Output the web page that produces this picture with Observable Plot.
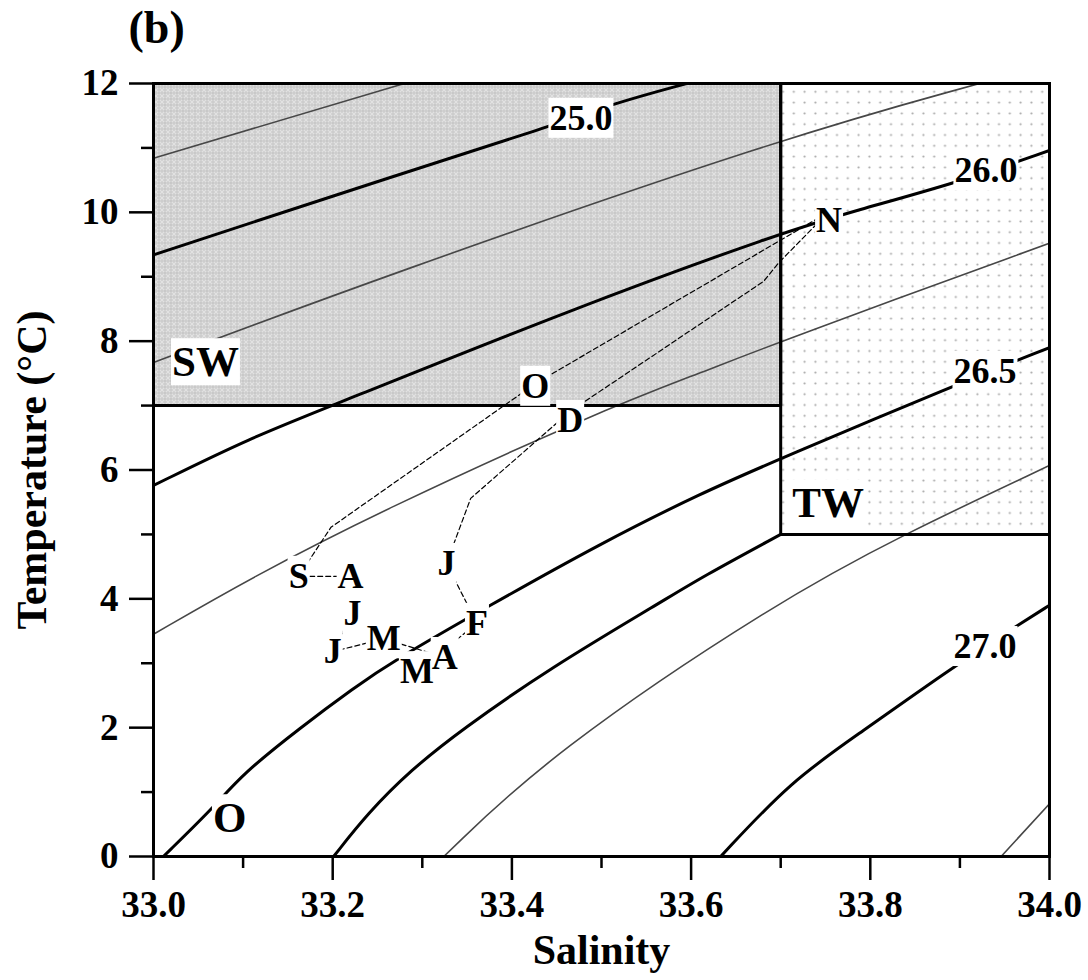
<!DOCTYPE html>
<html><head><meta charset="utf-8">
<script src="https://cdn.jsdelivr.net/npm/d3@7"></script>
<script src="https://cdn.jsdelivr.net/npm/@observablehq/plot@0.6"></script>
<style>body{margin:0;background:#fff}</style>
</head><body>
<div id="chart"></div>
<script>
// ---- axis ticks ----
const xTicks = [33.0, 33.2, 33.4, 33.6, 33.8, 34.0];
const xMinorTicks = [33.1, 33.3, 33.5, 33.7, 33.9];
const yTicks = [0, 2, 4, 6, 8, 10, 12];
const yMinorTicks = [1, 3, 5, 7, 9, 11];

// ---- isopycnals (salinity, temperature) ----
const isoAS = [33.000, 33.280];                 const isoAT = [10.84, 12.00];
const isoBS = [33.000, 33.276, 33.440, 33.513, 33.595]; const isoBT = [9.34, 10.60, 11.32, 11.69, 12.00];
const isoCS = [33.000, 33.253, 33.700, 33.922]; const isoCT = [7.67, 8.99, 11.15, 12.00];
const isoDS = [33.000, 33.108, 33.205, 33.469, 33.702, 33.784, 33.897, 34.000];
const isoDT = [5.76, 6.50, 7.03, 8.51, 9.69, 10.03, 10.46, 10.96];
const isoES = [33.000, 33.108, 33.253, 33.499, 33.611, 33.702, 34.000];
const isoET = [3.45, 4.32, 5.36, 6.92, 7.51, 8.01, 9.52];
const isoFS = [33.011, 33.067, 33.100, 33.164, 33.223, 33.268, 33.373, 33.499, 33.611, 33.702, 33.893, 34.000];
const isoFT = [0.00, 0.76, 1.29, 2.00, 2.61, 3.04, 3.88, 4.86, 5.64, 6.19, 7.31, 7.90];
const isoHS = [33.324, 33.443, 33.698, 33.834, 34.000]; const isoHT = [0.00, 1.60, 3.97, 4.98, 6.07];
const isoIS = [33.633, 33.712, 33.788, 33.892, 33.967, 34.000]; const isoIT = [0.00, 1.18, 1.91, 2.94, 3.61, 3.90];
const isoJS = [33.946, 34.000];                 const isoJT = [0.00, 0.82];
// water-mass boundary curve (O / TW)
const bndS = [33.201, 33.239, 33.287, 33.343, 33.443, 33.569, 33.611, 33.700];
const bndT = [0.00, 0.67, 1.34, 1.96, 2.93, 3.97, 4.33, 5.00];

// ---- water mass boxes ----
const swBoxS = [33.0, 33.7]; const swBoxT = [7, 12];
const twBoxS = [33.7, 34.0]; const twBoxT = [5, 12];

// ---- labels ----
const isoLabelText = ["25.0", "26.0", "26.5", "27.0"];
const isoLabelS = [33.477, 33.929, 33.928, 33.928];
const isoLabelT = [11.46, 10.65, 7.53, 3.26];
const massText = ["SW", "TW", "O"];
const massS = [33.058, 33.753, 33.085];
const massT = [7.67, 5.48, 0.59];
const monthText = ["J", "F", "M", "A", "M", "J", "J", "A", "S", "O", "N", "D"];
const monthS = [33.327, 33.361, 33.294, 33.325, 33.257, 33.200, 33.222, 33.220, 33.162, 33.426, 33.754, 33.465];
const monthT = [4.55, 3.62, 2.87, 3.09, 3.38, 3.18, 3.77, 4.35, 4.35, 7.30, 9.87, 6.77];

// ---- monthly T-S trajectory (dashed) ----
const pathS = [33.327, 33.361, 33.294, 33.325, 33.257, 33.200, 33.222, 33.220, 33.162, 33.198, 33.426, 33.753, 33.698, 33.681, 33.465, 33.354, 33.327];
const pathT = [4.55, 3.62, 2.87, 3.09, 3.38, 3.18, 3.77, 4.35, 4.35, 5.11, 7.34, 10.00, 9.22, 8.93, 6.91, 5.56, 4.55];

// ---- build tables ----
const lines = [
  {id: "A", kind: "thin", S: isoAS, T: isoAT},
  {id: "B", kind: "thick", S: isoBS, T: isoBT},
  {id: "C", kind: "thin", S: isoCS, T: isoCT},
  {id: "D", kind: "thick", S: isoDS, T: isoDT},
  {id: "E", kind: "thin", S: isoES, T: isoET},
  {id: "F", kind: "thick", S: isoFS, T: isoFT},
  {id: "G", kind: "thick", S: bndS, T: bndT},
  {id: "H", kind: "thin", S: isoHS, T: isoHT},
  {id: "I", kind: "thick", S: isoIS, T: isoIT},
  {id: "J", kind: "thin", S: isoJS, T: isoJT}
];
const rows = lines.flatMap(c => c.S.map((s, i) => ({id: c.id, kind: c.kind, S: s, T: c.T[i]})));
const thinRows = rows.filter(d => d.kind === "thin");
const thickRows = rows.filter(d => d.kind === "thick");
const zip = (a, b, t) => a.map((s, i) => ({S: s, T: b[i], text: t ? t[i] : null}));
const pathRows = zip(pathS, pathT);
const swEdge = [{S: swBoxS[0], T: swBoxT[0]}, {S: swBoxS[1], T: swBoxT[0]}, {S: swBoxS[1], T: swBoxT[1]}];
const twEdge = [{S: twBoxS[0], T: twBoxT[1]}, {S: twBoxS[0], T: twBoxT[0]}, {S: twBoxS[1], T: twBoxT[0]}];

const FONT = "Liberation Serif, Times New Roman, serif";
const txt = (size) => ({fontFamily: FONT, fontWeight: "bold", fontSize: size, fill: "black"});

const svg = Plot.plot({
  width: 1088, height: 980,
  marginLeft: 153, marginRight: 39, marginTop: 83, marginBottom: 124,
  x: {domain: [33, 34]},
  y: {domain: [0, 12]},
  style: {fontFamily: FONT, fontWeight: "bold", background: "white", color: "black"},
  marks: [
    Plot.rect([{}], {x1: () => swBoxS[0], x2: () => swBoxS[1], y1: () => swBoxT[0], y2: () => swBoxT[1], fill: "#d3d3d3"}),
    Plot.rect([{}], {x1: () => twBoxS[0], x2: () => twBoxS[1], y1: () => twBoxT[0], y2: () => twBoxT[1], fill: "white"}),
    Plot.line(thinRows, {x: "S", y: "T", z: "id", curve: "basis", stroke: "#474747", strokeWidth: 1.6, clip: true}),
    Plot.line(thickRows, {x: "S", y: "T", z: "id", curve: "basis", stroke: "black", strokeWidth: 3, clip: true}),
    Plot.line(swEdge, {x: "S", y: "T", stroke: "black", strokeWidth: 3}),
    Plot.line(twEdge, {x: "S", y: "T", stroke: "black", strokeWidth: 3}),
    Plot.line(pathRows, {x: "S", y: "T", stroke: "black", strokeWidth: 1.2, strokeDasharray: "5,3"}),
    Plot.frame({stroke: "black", strokeWidth: 3}),
    Plot.axisX({ticks: xTicks, tickSize: 24, tickPadding: 10, tickFormat: d => d.toFixed(1), label: null, strokeWidth: 2.5, ...txt(37)}),
    Plot.axisX({ticks: xMinorTicks, tickSize: 12, tickFormat: () => "", label: null, strokeWidth: 2.5}),
    Plot.axisY({ticks: yTicks, tickSize: 24, tickPadding: 11, tickFormat: d => String(d), label: null, strokeWidth: 2.5, ...txt(37)}),
    Plot.axisY({ticks: yMinorTicks, tickSize: 12, tickFormat: () => "", label: null, strokeWidth: 2.5}),
    Plot.text(zip(isoLabelS, isoLabelT, isoLabelText), {x: "S", y: "T", text: "text", lineAnchor: "middle", ...txt(36)}),
    Plot.text(zip(massS, massT, massText), {x: "S", y: "T", text: "text", lineAnchor: "middle", ...txt(43)}),
    Plot.text(zip(monthS, monthT, monthText), {x: "S", y: "T", text: "text", lineAnchor: "middle", ...txt(36)}),
    Plot.text(["Salinity"], {frameAnchor: "bottom", dy: 107, lineAnchor: "bottom", textAnchor: "middle", ...txt(42)}),
    Plot.text(["Temperature (°C)"], {frameAnchor: "left", dx: -108, rotate: -90, lineAnchor: "bottom", textAnchor: "middle", ...txt(42)}),
    Plot.text(["(b)"], {frameAnchor: "top-left", dx: -25, dy: -41, textAnchor: "start", lineAnchor: "bottom", ...txt(46)})
  ]
});
document.getElementById("chart").append(svg);

// patterns
const ns = "http://www.w3.org/2000/svg";
const defs = document.createElementNS(ns, "defs");
defs.innerHTML = `
<pattern id="swPat" patternUnits="userSpaceOnUse" width="6" height="6">
  <rect width="6" height="6" fill="#cdcdcd"/>
  <path d="M0,0L6,6M6,0L0,6" stroke="#e2e2e2" stroke-width="1.1"/>
  <circle cx="3" cy="3" r="0.9" fill="#bdbdbd"/>
</pattern>
<pattern id="twPat" patternUnits="userSpaceOnUse" width="10.8" height="10.8">
  <rect width="10.8" height="10.8" fill="white"/>
  <circle cx="5.4" cy="5.4" r="1.1" fill="#a8a8a8"/>
</pattern>`;
svg.insertBefore(defs, svg.firstChild);
const boxRects = svg.querySelectorAll('g[aria-label="rect"] rect');
if (boxRects[0]) boxRects[0].setAttribute("fill", "url(#swPat)");
if (boxRects[1]) boxRects[1].setAttribute("fill", "url(#twPat)");

// white boxes behind labels
const boxedSet = new Set([...isoLabelText, ...massText, ...monthText]);
svg.querySelectorAll('g[aria-label="text"] text').forEach(t => {
  if (!boxedSet.has(t.textContent)) return;
  const b = t.getBBox();
  const r = document.createElementNS(ns, "rect");
  r.setAttribute("x", b.x - 1);
  r.setAttribute("y", b.y);
  r.setAttribute("width", b.width + 2);
  r.setAttribute("height", b.height);
  r.setAttribute("fill", "white");
  r.setAttribute("stroke", "none");
  const tr = t.getAttribute("transform");
  if (tr) r.setAttribute("transform", tr);
  t.parentNode.insertBefore(r, t);
});
</script>
</body></html>
